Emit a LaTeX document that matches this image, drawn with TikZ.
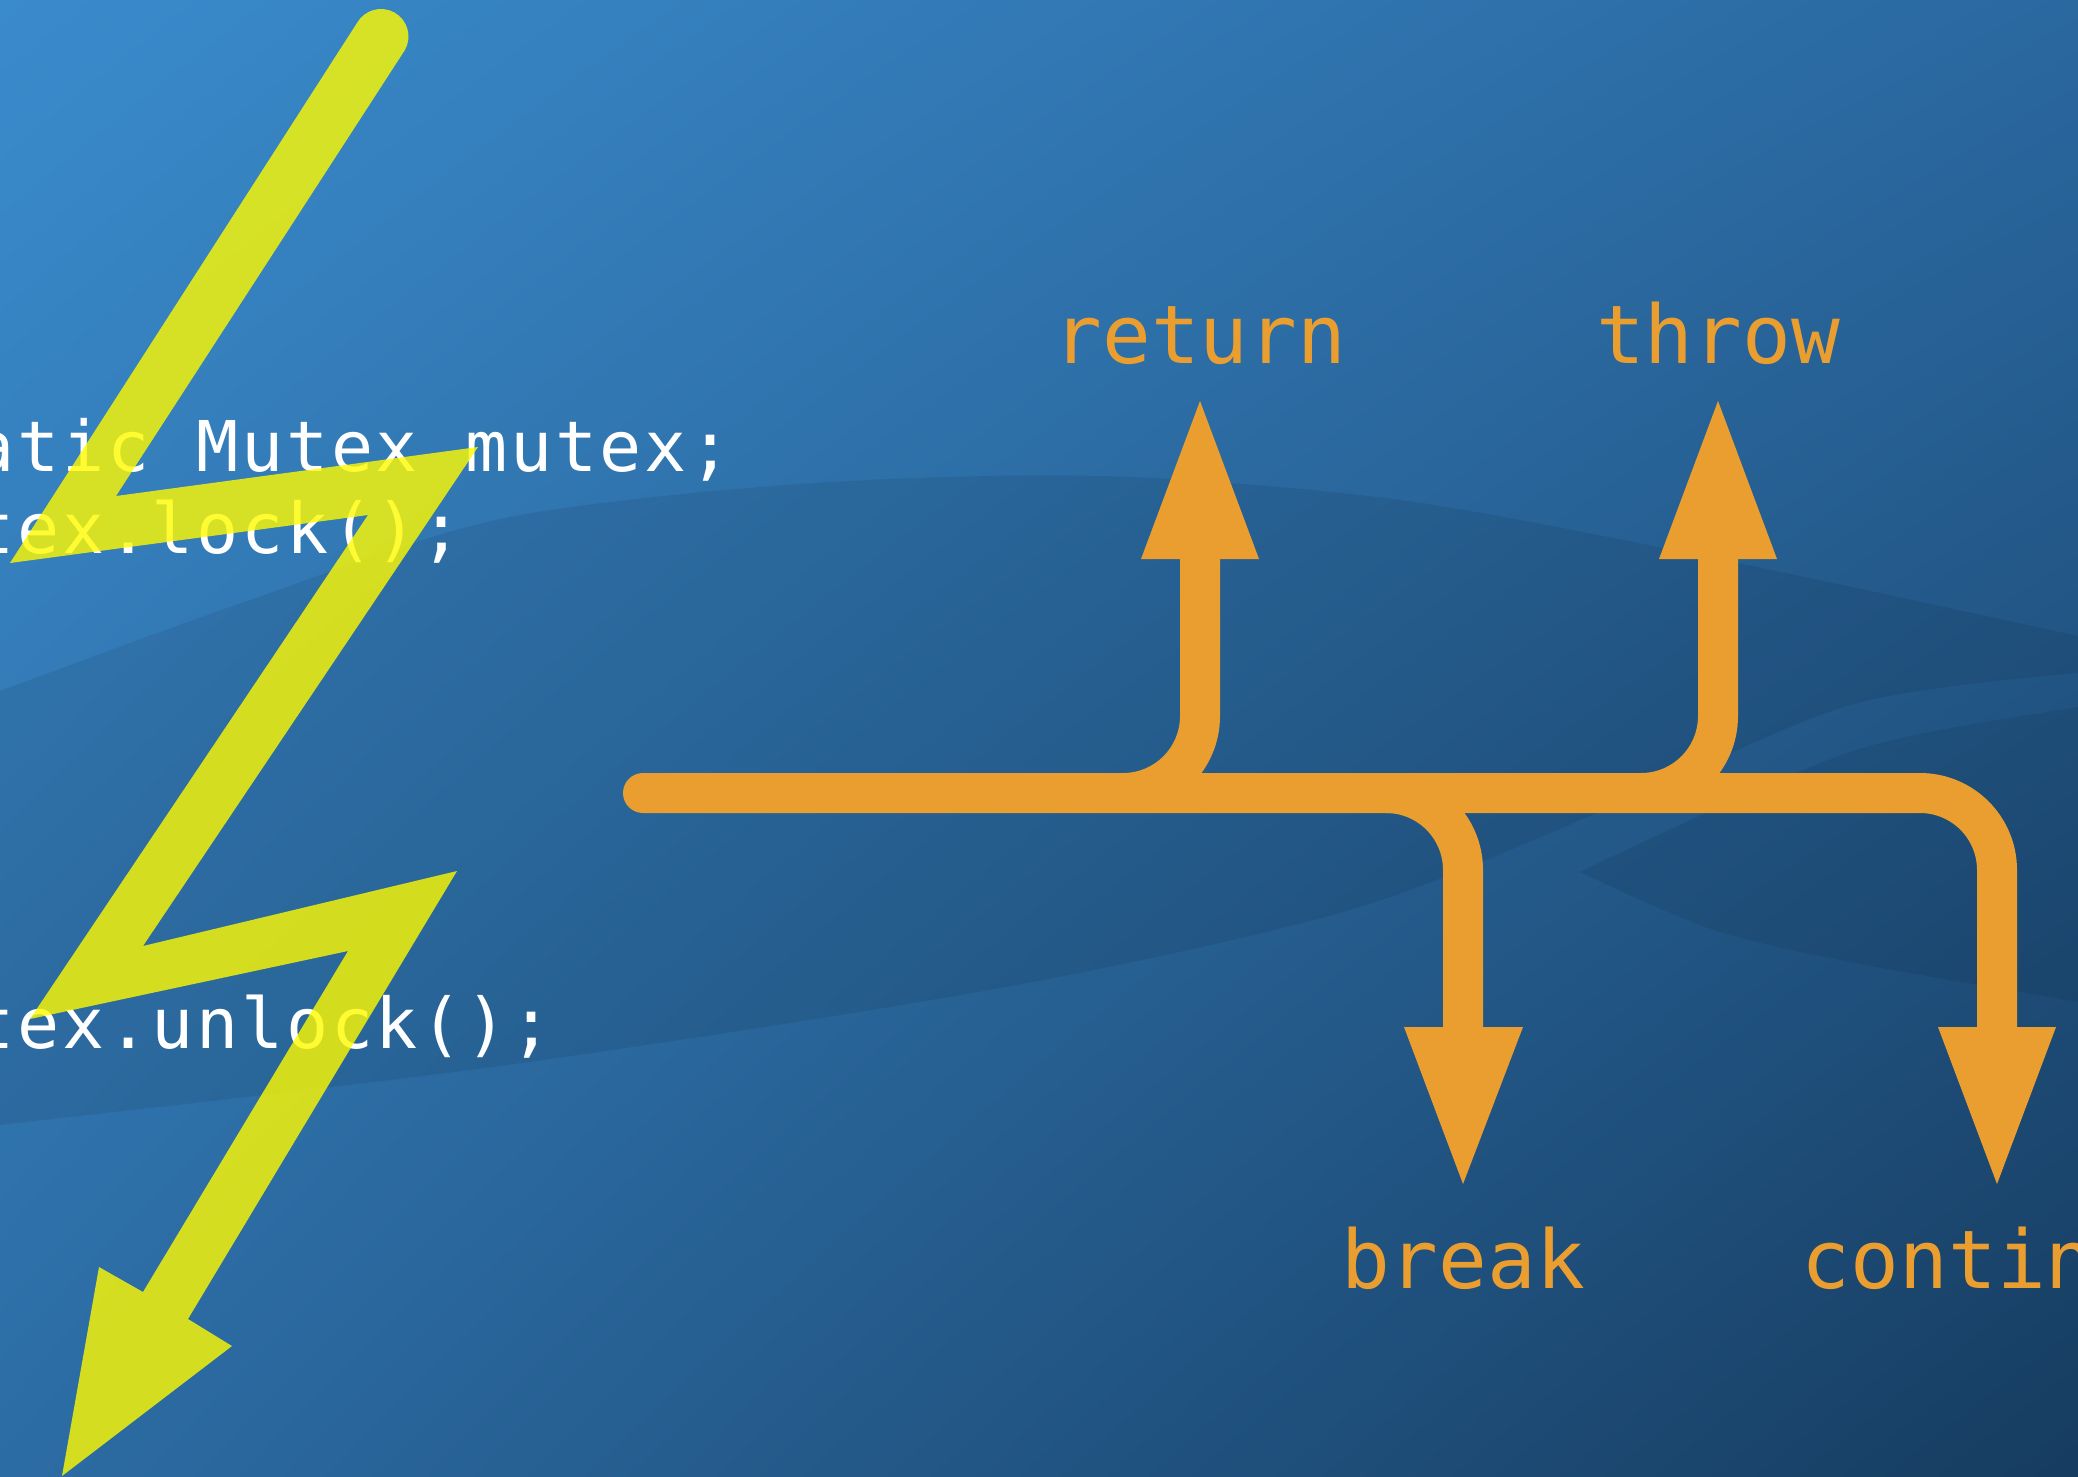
\documentclass[tikz,border=0pt]{standalone}
\usepackage{fontspec}
\usetikzlibrary{shadings}
\newfontfamily\codefont{DejaVu Sans Mono}
\definecolor{bgUL}{RGB}{58,139,204}
\definecolor{bgUR}{RGB}{42,104,160}
\definecolor{bgLL}{RGB}{44,108,164}
\definecolor{bgLR}{RGB}{22,60,96}
\definecolor{arrowor}{RGB}{235,158,48}
\definecolor{boltyellow}{RGB}{255,250,0}
\newcommand\monostr[1]{\monostep#1\relax}
\def\monostep#1{\ifx#1\relax\else\makebox[44.8pt][l]{#1}\expandafter\monostep\fi}
\tikzset{
  orangeline/.style={draw=arrowor, line width=40pt, line cap=butt},
  orangehead/.style={fill=arrowor},
  boltshape/.style={fill=boltyellow, fill opacity=0.8},
  darkband/.style={fill=black, fill opacity=0.08},
  darkwedge/.style={fill=black, fill opacity=0.07},
  codetext/.style={text=white, anchor=base west, inner sep=0pt, font=\codefont\fontsize{70pt}{84pt}\selectfont},
  labeltext/.style={text=arrowor, anchor=base, inner sep=0pt, font=\codefont\fontsize{81pt}{97pt}\selectfont},
}
\begin{document}
\begin{tikzpicture}[x=1pt,y=-1pt]
\useasboundingbox (0,0) rectangle (2078,1476);
\clip (0,0) rectangle (2078,1476);
% background
\shade[upper left=bgUL, upper right=bgUR, lower left=bgLL, lower right=bgLR] (0,0) rectangle (2078,1476);
\fill[darkband] plot[smooth] coordinates {(-20,700) (0,691) (250,600) (500,519) (800,484) (1100,476) (1400,500) (1723,560) (2078,636) (2100,641)}
  -- (2100,671) -- plot[smooth] coordinates {(2078,673) (1850,705) (1600,812) (1350,910) (1000,988) (500,1066) (0,1125) (-20,1128)} -- cycle;
\fill[darkwedge] (1580,872) -- plot[smooth] coordinates {(1580,872) (1850,752) (2078,707) (2100,705)}
  -- (2100,1006) -- plot[smooth] coordinates {(2078,1002) (1850,962) (1711,929) (1580,872)} -- cycle;
% code
\node[codetext] (line1) at (-117,471) {\monostr{static~Mutex~mutex;}};
\node[codetext] (line2) at (-117,553) {\monostr{mutex.lock();}};
\node[codetext] (line3) at (-117,1048) {\monostr{mutex.unlock();}};
% lightning bolt
\fill[boltshape] (357,23) arc[start angle=209.4, end angle=389.4, radius=27.5]
  -- (116,496) -- (478,447) -- (143,946) -- (457,871) -- (188,1319) -- (232,1346)
  -- (62,1476) -- (99,1267) -- (143,1292) -- (348,951) -- (30,1019) -- (368,515)
  -- (10,563) -- cycle;
% orange control flow
\coordinate (barL) at (643,793);
\coordinate (retJ) at (1123,793);
\coordinate (brkJ) at (1386,793);
\coordinate (thrJ) at (1641,793);
\coordinate (conJ) at (1920,793);
\coordinate (retB) at (1200,559);
\coordinate (thrB) at (1718,559);
\coordinate (brkB) at (1463,1027);
\coordinate (conB) at (1997,1027);
\fill[arrowor] (barL) circle[radius=20];
\draw[orangeline] (barL) -- (conJ) arc[start angle=270, end angle=360, radius=77] -- (conB);
\draw[orangeline] (retJ) arc[start angle=90, end angle=0, radius=77] -- (retB);
\draw[orangeline] (thrJ) arc[start angle=90, end angle=0, radius=77] -- (thrB);
\draw[orangeline] (brkJ) arc[start angle=270, end angle=360, radius=77] -- (brkB);
\fill[orangehead] (1141,559) -- (1259,559) -- (1200,401) -- cycle;
\fill[orangehead] (1659,559) -- (1777,559) -- (1718,401) -- cycle;
\fill[orangehead] (1404,1027) -- (1523,1027) -- (1463,1184) -- cycle;
\fill[orangehead] (1938,1027) -- (2056,1027) -- (1997,1184) -- cycle;
% labels
\node[labeltext] (lreturn) at (1200,363) {return};
\node[labeltext] (lthrow) at (1718,363) {throw};
\node[labeltext] (lbreak) at (1463,1288) {break};
\node[labeltext] (lcontinue) at (1997,1288) {continue};
\end{tikzpicture}
\end{document}
